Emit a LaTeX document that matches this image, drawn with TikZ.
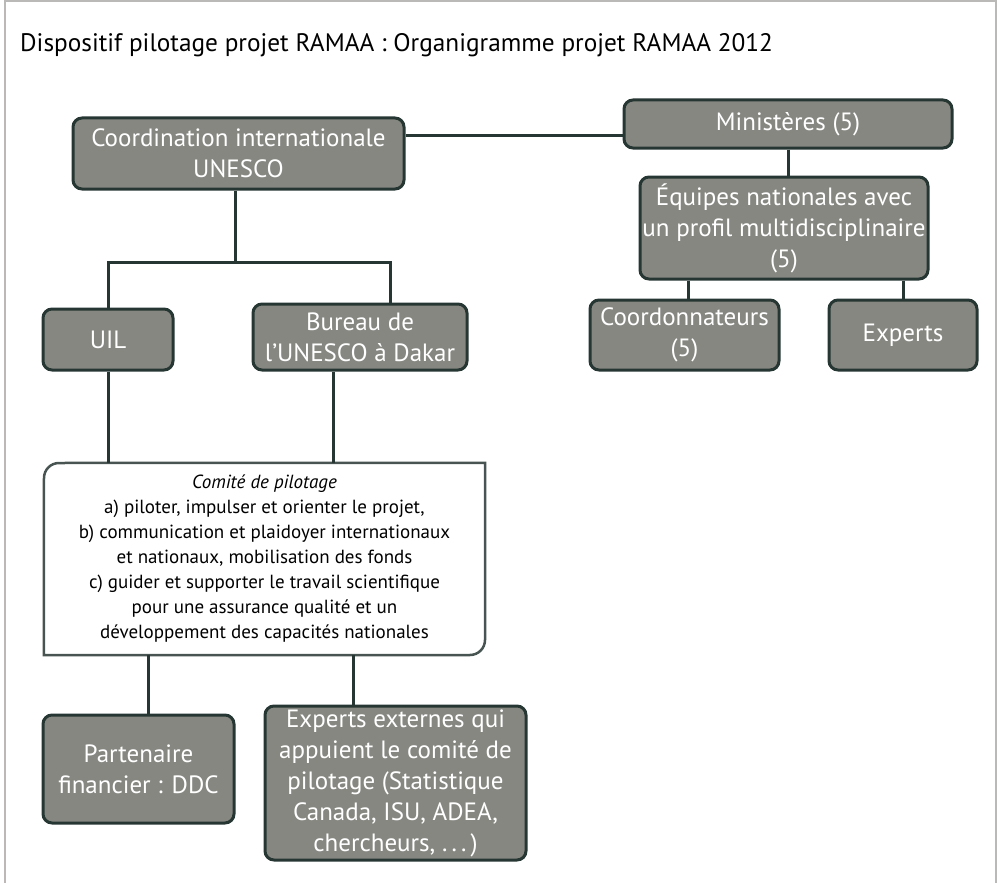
\documentclass[tikz,border=0pt]{standalone}
\usepackage{fontspec}
\setmainfont{PT Sans}
\definecolor{boxfill}{HTML}{878782}
\definecolor{boxline}{HTML}{263632}
\definecolor{framegray}{HTML}{BBB8B8}
\tikzset{
  gbox/.style={draw=boxline, line width=3pt, fill=boxfill, rounded corners=9pt,
    text=white, align=center, inner sep=0pt,
    font=\fontsize{25}{31}\selectfont},
  conn/.style={draw=boxline, line width=3pt},
}
\begin{document}
\begin{tikzpicture}[x=1pt,y=-1pt]
\useasboundingbox (0,0) rectangle (997,883);
\draw[framegray, line width=1.5pt] (5,883) -- (5,1) -- (996,1) -- (996,883);
\node[anchor=base west, inner sep=0pt, font=\fontsize{25.3}{30}\selectfont] (title) at (20,52) {Dispositif pilotage projet RAMAA : Organigramme projet RAMAA 2012};
% boxes
\node[gbox, minimum width=331pt, minimum height=71pt] (coord) at (238.5,153.5) {Coordination internationale\\UNESCO};
\node[gbox, minimum width=328pt, minimum height=48pt] (min) at (788,124) {Ministères (5)};
\node[gbox, minimum width=288pt, minimum height=102pt] (equ) at (784,228) {Équipes nationales avec\\un profil multidisciplinaire\\(5)};
\node[gbox, minimum width=189pt, minimum height=70pt] (coordo) at (684.5,335) {Coordonnateurs\\(5)};
\node[gbox, minimum width=148pt, minimum height=70pt] (exp) at (903,335) {Experts};
\node[gbox, minimum width=130pt, minimum height=61pt] (uil) at (108,339.5) {UIL};
\node[gbox, minimum width=214pt, minimum height=66pt] (bur) at (360,337) {Bureau de\\l’UNESCO à Dakar};
\node[gbox, minimum width=191pt, minimum height=108pt] (part) at (138.5,769) {Partenaire\\financier : DDC};
\node[gbox, minimum width=261pt, minimum height=154pt] (ext) at (395.5,783) {Experts externes qui\\appuient le comité de\\pilotage (Statistique\\Canada, ISU, ADEA,\\chercheurs, .\,.\,.\,)};
% comite box
\node[minimum width=441pt, minimum height=192pt, inner sep=0pt, align=center,
  font=\fontsize{19}{25}\selectfont] (com) at (264.5,559)
  {\textit{Comité de pilotage}\\a) piloter, impulser et orienter le projet,\\b) communication et plaidoyer internationaux\\et nationaux, mobilisation des fonds\\c) guider et supporter le travail scientifique\\pour une assurance qualité et un\\développement des capacités nationales};
\draw[draw=boxline!85, line width=2.5pt]
  (com.south west) -- (44,478) .. controls (44,469.7) and (50.7,463) .. (59,463)
  -- (com.north east) -- (485,640) .. controls (485,648.3) and (478.3,655) .. (470,655)
  -- cycle;
% connectors
\coordinate (hmin) at (0,135);
\coordinate (hsplit) at (0,262);
\coordinate (xcd) at (235,0);
\coordinate (xbur) at (390,0);
\coordinate (xburdown) at (333,0);
\coordinate (xpart) at (148,0);
\coordinate (xext) at (353,0);
\coordinate (xeq) at (788,0);
\coordinate (xco) at (688,0);
\coordinate (xex) at (903,0);
\draw[conn] (coord.east |- hmin) -- (min.west |- hmin);
\draw[conn] (xcd |- coord.south) -- (xcd |- hsplit);
\draw[conn] (uil.north) -- (uil.north |- hsplit) -- (xbur |- hsplit) -- (xbur |- bur.north);
\draw[conn] (uil.south) -- (uil.south |- com.north);
\draw[conn] (xburdown |- bur.south) -- (xburdown |- com.north);
\draw[conn] (xpart |- com.south) -- (xpart |- part.north);
\draw[conn] (xext |- com.south) -- (xext |- ext.north);
\draw[conn] (xeq |- min.south) -- (xeq |- equ.north);
\draw[conn] (xco |- equ.south) -- (xco |- coordo.north);
\draw[conn] (xex |- equ.south) -- (xex |- exp.north);
\end{tikzpicture}
\end{document}
